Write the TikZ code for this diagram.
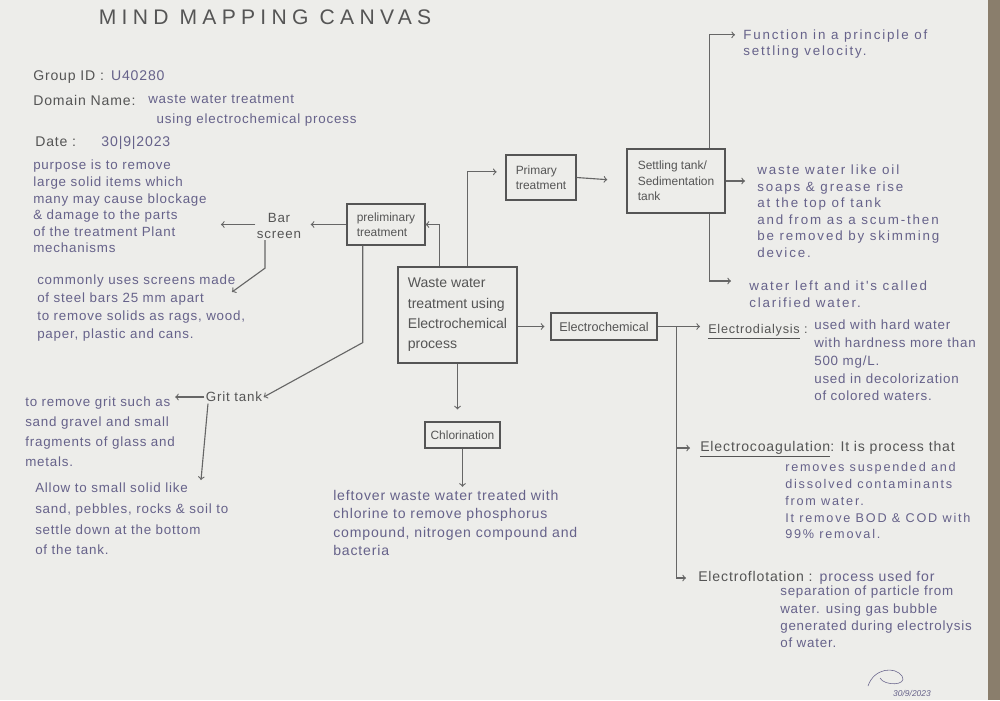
\documentclass[tikz,border=0pt]{standalone}
\usepackage{fontspec}
\setmainfont{Liberation Sans}
\newfontfamily\handA[LetterSpace=6]{Liberation Sans}
\newfontfamily\handB[LetterSpace=14]{Liberation Sans}
\newfontfamily\titlefont[LetterSpace=25]{Liberation Sans}
\definecolor{pencil}{HTML}{555555}
\definecolor{ink}{HTML}{66628A}
\definecolor{paper}{HTML}{EDEDEA}
\definecolor{desk}{HTML}{8A7E6C}

\begin{document}
\begin{tikzpicture}[x=0.025cm, y=-0.025cm,
  box/.style={draw=pencil, thick, text=pencil, align=left, font=\fontsize{8.5}{11}\selectfont, inner sep=3pt},
  note/.style={anchor=north west, align=left, text=ink, inner sep=0pt, font=\handA\fontsize{9.5}{#1}\selectfont},
  note/.default=12pt,
  rnote/.style={anchor=north west, align=left, text=ink, inner sep=0pt, font=\handB\fontsize{9.5}{#1}\selectfont},
  rnote/.default=12pt,
  lbl/.style={text=pencil, align=center, inner sep=1pt, font=\handA\fontsize{9.5}{11}\selectfont},
  head/.style={anchor=mid west, text=pencil, inner sep=0pt, font=\handA\fontsize{10}{11}\selectfont},
  link/.style={draw=pencil!90, thick, ->}]

\fill[paper] (0,0) rectangle (1000,700);
\fill[desk] (988,0) rectangle (1000,700);
\useasboundingbox (0,0) rectangle (1000,700);

\node[text=pencil, font=\titlefont\fontsize{15}{18}\selectfont] (title) at (265,17) {MIND MAPPING CANVAS};

\node[head] (gid) at (33,77) {Group ID :\hspace{5pt}{\color{ink}U40280}};
\node[head] (dom) at (33,102) {Domain Name:};
\node[note=14pt] (domtxt) at (148,95) {waste water treatment\\\hspace*{6pt}using electrochemical process};
\node[head] (date) at (35,143) {Date :\hspace{18pt}{\color{ink}30|9|2023}};

\node[box, minimum width=1.95cm, minimum height=1.025cm] (prelim) at (386,224.5) {preliminary\\treatment};
\node[box, minimum width=2.975cm, minimum height=2.4cm, font=\fontsize{10}{14.5}\selectfont] (ww) at (457.5,315) {Waste water\\treatment using\\Electrochemical\\process};
\node[box, minimum width=1.75cm, minimum height=1.125cm] (primary) at (541,177.5) {Primary\\treatment};
\node[box, minimum width=2.45cm, minimum height=1.6cm] (settle) at (676,181) {Settling tank/\\Sedimentation\\tank};
\node[box, minimum width=2.65cm, minimum height=0.675cm, font=\fontsize{9}{11}\selectfont] (elec) at (604,326.5) {Electrochemical};
\node[box, minimum width=1.875cm, minimum height=0.65cm] (chlor) at (462.5,435) {Chlorination};

\node[lbl, anchor=north] (bar) at (279,212) {Bar\\screen};
\node[lbl] (grit) at (234,397) {Grit tank};

\node[note=11.8pt] (purpose) at (33,160) {purpose is to remove\\large solid items which\\many may cause blockage\\\& damage to the parts\\of the treatment Plant\\mechanisms};
\node[note=12.8pt] (steel) at (37,275) {commonly uses screens made\\of steel bars 25 mm apart\\to remove solids as rags, wood,\\paper, plastic and cans.};
\node[note=14.2pt] (gravel) at (25,397) {to remove grit such as\\sand gravel and small\\fragments of glass and\\metals.};
\node[note=14.7pt] (allow) at (35,483) {Allow to small solid like\\sand, pebbles, rocks \& soil to\\settle down at the bottom\\of the tank.};
\node[note=13pt, font=\handA\fontsize{10}{13}\selectfont] (leftover) at (333,490) {leftover waste water treated with\\chlorine to remove phosphorus\\compound, nitrogen compound and\\bacteria};

\node[rnote=11pt] (fn) at (743,30) {Function in a principle of\\settling velocity.};
\node[rnote=11.7pt] (scum) at (757,165) {waste water like oil\\soaps \& grease rise\\at the top of tank\\and from as a scum-then\\be removed by skimming\\device.};
\node[rnote=11.4pt] (clar) at (749,281) {water left and it's called\\clarified water.};

\node[head, font=\handA\fontsize{9}{11}\selectfont] (dial) at (708,330) {\underline{Electrodialysis} :};
\node[note=12.6pt] (dialtxt) at (814,320) {used with hard water\\with hardness more than\\500 mg/L.\\used in decolorization\\of colored waters.};
\node[head] (coag) at (700,448) {\underline{Electrocoagulation}: It is process that};
\node[rnote, font=\handB\fontsize{9}{12}\selectfont] (coagtxt) at (785,462) {removes suspended and\\dissolved contaminants\\from water.\\It remove BOD \& COD with\\99\% removal.};
\node[head] (flot) at (698,578) {Electroflotation :\hspace{5pt}{\color{ink}process used for}};
\node[note=12.3pt] (flottxt) at (780,586) {separation of particle from\\water. using gas bubble\\generated during electrolysis\\of water.};

\node[text=ink, font=\fontsize{6}{7}\itshape] (sign) at (912,693) {30/9/2023};
\draw[ink, thin] (868,686) .. controls (874,668) and (895,666) .. (902,676) .. controls (908,686) and (884,686) .. (880,678);

\coordinate (barTip) at (232,292);
\coordinate (gritTip) at (201,480);
\coordinate (spine) at ([xshift=0.48cm]elec.east);

\draw[link] ([xshift=-0.44cm]ww.north) |- (prelim.east);
\draw[link, shorten >=0.22cm] ([xshift=0.26cm]ww.north) |- ([yshift=0.14cm]primary.west);
\draw[link, shorten >=0.48cm] (primary.east) -- (settle.west);
\draw[link, shorten >=0.2cm] ([xshift=0.83cm]settle.north) |- ([yshift=-0.12cm]fn.north west);
\draw[link, shorten >=0.3cm] (settle.east) -- (settle.east -| scum.west);
\draw[link, shorten >=0.45cm] ([xshift=0.83cm]settle.south) |- (clar.north west);

\draw[link, shorten >=0.2cm] (prelim.west) -- (prelim.west -| bar.east);
\draw[link, shorten >=0.35cm] (bar.west |- prelim.west) -- (prelim.west -| purpose.east);
\draw[link] ([xshift=-0.35cm]bar.south) -- ++(0,28) -- (barTip);
\draw[link] ([xshift=-0.58cm]prelim.south) -- ++(0,97) -- (grit.east);
\draw[link] (grit.west) -- (grit.west -| gravel.east);
\draw[link] ([xshift=-0.65cm]grit.south) -- (gritTip);

\draw[link, shorten >=0.3cm] (ww.south) -- (ww.south |- chlor.north);
\draw[link, shorten >=0.08cm] (chlor.south) -- (chlor.south |- leftover.north);
\draw[link, shorten >=0.15cm] (ww.east |- elec.west) -- (elec.west);

\draw[link, shorten >=0.2cm] (elec.east) -- (elec.east -| dial.west);
\draw[link, shorten >=0.25cm] (spine) |- (coag.mid west);
\draw[link, shorten >=0.3cm] (spine) |- (flot.mid west);
\end{tikzpicture}
\end{document}
